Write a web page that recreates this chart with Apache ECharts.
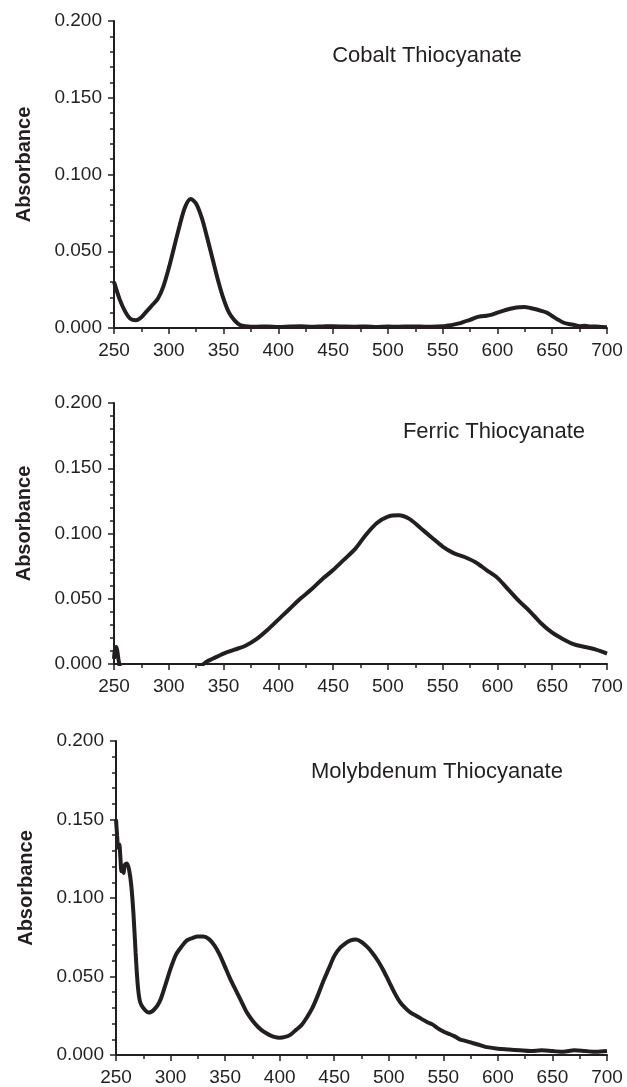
<!DOCTYPE html>
<html>
<head>
<meta charset="utf-8">
<script src="https://cdn.jsdelivr.net/npm/echarts@6/dist/echarts.min.js"></script>
<style>
html,body{margin:0;padding:0;background:#fff;}
#chart{width:627px;height:1087px;}
</style>
</head>
<body>
<div id="chart"></div>
<script>
// ---- Data (wavelength nm, absorbance) ----
const yTickLabels = ['0.000','0.050','0.100','0.150','0.200'];
const xTickLabels = ['250','300','350','400','450','500','550','600','650','700'];
const panelTitles = ['Cobalt Thiocyanate','Ferric Thiocyanate','Molybdenum Thiocyanate'];

const cobaltWl = [250,255,260,265,270,275,280,285,290,295,300,305,310,315,320,325,330,335,340,345,350,355,360,365,370,380,390,400,410,420,430,440,450,460,470,480,490,500,510,520,530,540,550,555,560,565,570,575,580,585,590,595,600,605,610,615,620,625,630,635,640,645,650,655,660,665,670,675,680,685,690,695,700];
const cobaltAbs = [0.030,0.019,0.011,0.006,0.005,0.007,0.011,0.015,0.019,0.027,0.039,0.053,0.067,0.079,0.084,0.081,0.072,0.059,0.045,0.031,0.019,0.010,0.005,0.002,0.0012,0.0008,0.0010,0.0007,0.0009,0.0011,0.0008,0.0010,0.0012,0.0009,0.0008,0.0010,0.0007,0.0009,0.0008,0.0010,0.0009,0.0008,0.0011,0.0016,0.0022,0.0030,0.0042,0.0053,0.0068,0.0076,0.0080,0.0087,0.0100,0.0112,0.0122,0.0130,0.0135,0.0137,0.0130,0.0122,0.0112,0.0100,0.0078,0.0056,0.0036,0.0026,0.0020,0.0012,0.0014,0.0009,0.0010,0.0006,0.0005];

const ferricWl = [250,251,252,253,254,256,260,270,280,290,300,310,320,330,335,340,350,360,370,380,390,400,410,420,430,440,450,460,470,480,490,500,510,520,530,540,550,560,570,580,590,600,610,620,630,640,650,660,670,680,690,700];
const ferricAbs = [0.004,0.012,0.013,0.010,0.004,-0.004,-0.010,-0.014,-0.016,-0.016,-0.014,-0.011,-0.006,-0.001,0.002,0.004,0.008,0.011,0.014,0.019,0.026,0.034,0.042,0.050,0.057,0.065,0.072,0.080,0.088,0.099,0.108,0.113,0.114,0.111,0.104,0.097,0.090,0.085,0.082,0.078,0.072,0.066,0.057,0.048,0.040,0.031,0.024,0.019,0.015,0.013,0.011,0.008];

const molyWl = [250,251,252,253,254,255,256,257,258,260,262,264,266,268,270,272,275,280,285,290,295,300,305,310,315,320,325,330,335,340,345,350,355,360,365,370,375,380,385,390,395,400,405,410,415,420,425,430,435,440,445,450,455,460,465,470,475,480,485,490,495,500,505,510,515,520,525,530,535,540,545,550,555,560,565,570,575,580,585,590,600,610,620,630,640,650,660,670,680,690,700];
const molyAbs = [0.150,0.140,0.132,0.134,0.126,0.117,0.120,0.116,0.121,0.122,0.118,0.108,0.090,0.065,0.044,0.034,0.030,0.027,0.029,0.034,0.044,0.055,0.064,0.069,0.073,0.0745,0.0755,0.0755,0.074,0.070,0.064,0.056,0.048,0.041,0.034,0.027,0.022,0.018,0.015,0.013,0.0115,0.011,0.0115,0.013,0.016,0.019,0.024,0.030,0.038,0.047,0.055,0.063,0.068,0.071,0.073,0.0735,0.072,0.069,0.065,0.060,0.054,0.047,0.040,0.034,0.030,0.027,0.025,0.023,0.021,0.0195,0.017,0.015,0.0135,0.012,0.010,0.009,0.008,0.007,0.006,0.005,0.004,0.0035,0.003,0.0025,0.003,0.0025,0.002,0.003,0.0025,0.002,0.0025];

// ---- Build chart ----
const ink = '#231f20';
const zip = (a, b) => a.map((v, i) => [v, b[i]]);
const seriesData = [zip(cobaltWl, cobaltAbs), zip(ferricWl, ferricAbs), zip(molyWl, molyAbs)];

const grids = [
  {left:114, top:21, width:493, height:307},
  {left:114, top:403, width:493, height:261},
  {left:116, top:741, width:491, height:316}
];
const titlePos = [[427,56],[494,432],[437,772]];

const chart = echarts.init(document.getElementById('chart'), null, {renderer:'canvas'});
const font = '"Liberation Sans", Arial, Helvetica, sans-serif';

const option = {
  backgroundColor:'#ffffff',
  animation:false,
  grid: grids,
  xAxis: grids.map((g, i) => ({
    type:'value', gridIndex:i, min:250, max:700, interval:50,
    axisLine:{show:true, onZero:false, lineStyle:{color:ink, width:2}},
    axisTick:{show:true, length:6, lineStyle:{color:ink, width:1.5}},
    minorTick:{show:true, splitNumber:2, length:4, lineStyle:{color:ink, width:1.5}},
    splitLine:{show:false},
    axisLabel:{color:ink, fontSize:19, fontFamily:font, margin:13,
      formatter:(v) => xTickLabels[Math.round((v-250)/50)]}
  })),
  yAxis: grids.map((g, i) => ({
    type:'value', gridIndex:i, min:0, max:0.2, interval:0.05,
    name:'Absorbance', nameLocation:'middle', nameGap:80, nameRotate:90,
    nameTextStyle:{color:ink, fontSize:20, fontWeight:'bold', fontFamily:font, padding:[0,0,0,20]},
    axisLine:{show:true, onZero:false, lineStyle:{color:ink, width:2}},
    axisTick:{show:true, length:6, lineStyle:{color:ink, width:1.5}},
    minorTick:{show:true, splitNumber:5, length:4, lineStyle:{color:ink, width:1.5}},
    splitLine:{show:false},
    axisLabel:{color:ink, fontSize:19, fontFamily:font, margin:12,
      formatter:(v) => yTickLabels[Math.round(v/0.05)]}
  })),
  graphic: panelTitles.map((t, i) => ({
    type:'text', x:titlePos[i][0], y:titlePos[i][1],
    style:{text:t, fill:ink, font:'22px ' + font,
      textAlign:'center', textVerticalAlign:'middle', align:'center', verticalAlign:'middle'}
  })),
  series: seriesData.map((d, i) => ({
    type:'line', xAxisIndex:i, yAxisIndex:i, data:d,
    showSymbol:false, smooth:0.3, clip:true,
    lineStyle:{color:ink, width:4}
  }))
};
chart.setOption(option);
</script>
</body>
</html>
